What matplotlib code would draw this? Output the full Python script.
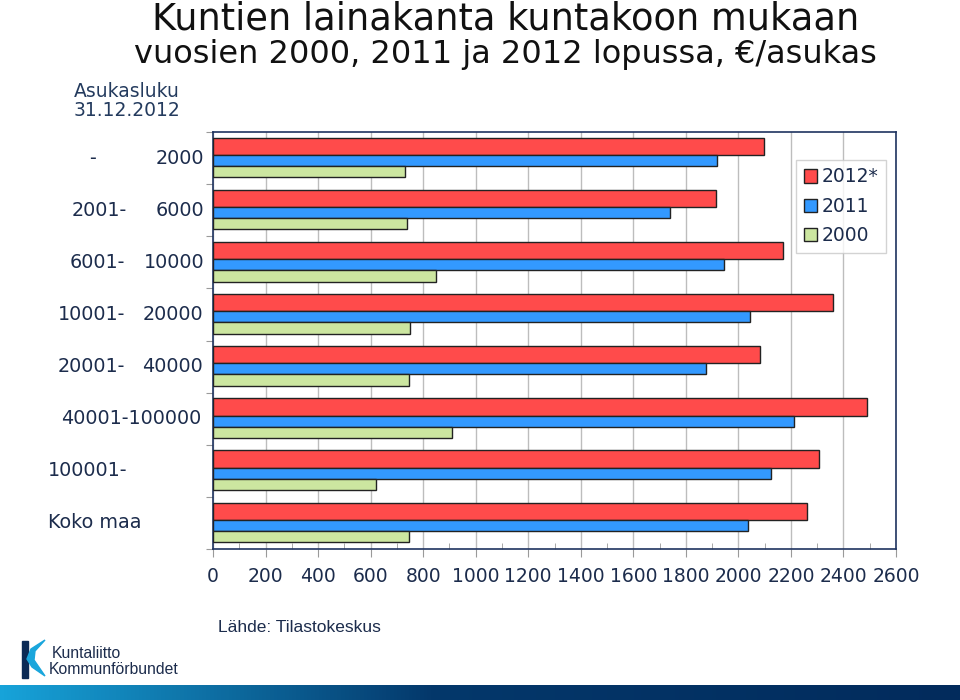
import numpy as np
import matplotlib.pyplot as plt
from matplotlib.colors import LinearSegmentedColormap
from matplotlib.patches import Polygon
from matplotlib.transforms import blended_transform_factory

# data, EUR per inhabitant
groups = ["- 2000", "2001- 6000", "6001- 10000", "10001- 20000",
          "20001- 40000", "40001-100000", "100001-", "Koko maa"]
v2012 = [2097, 1915, 2168, 2362, 2081, 2491, 2307, 2261]
v2011 = [1918, 1739, 1944, 2046, 1877, 2212, 2126, 2038]
v2000 = [731, 737, 850, 750, 746, 909, 620, 746]
series_names = ["2012*", "2011", "2000"]
x_ticks = list(range(0, 2601, 200))

navy = "#1c2c4c"
c_red, c_blue, c_green = "#ff4b4b", "#3399ff", "#cce6a0"

fig = plt.figure(figsize=(9.6, 7), dpi=100)
W, H = 960, 700
ax = fig.add_axes([213 / W, 1 - 549 / H, 683 / W, 417 / H])

y = np.arange(len(groups))
bars = []
for vals, y0, y1, col in [(v2012, 0.11, 0.44, c_red),
                          (v2011, 0.44, 0.65, c_blue),
                          (v2000, 0.65, 0.87, c_green)]:
    b = ax.barh(y + y0, vals, height=y1 - y0, align="edge", color=col,
                edgecolor="#222222", linewidth=1.0, zorder=3)
    bars.append(b)

ax.set_xlim(0, 2600)
ax.set_ylim(len(groups), 0)
ax.set_xticks(x_ticks)
ax.set_xticks(range(100, 2600, 200), minor=True)
ax.set_xticklabels([str(t) for t in x_ticks], fontsize=13.5, color=navy)
ax.tick_params(axis="x", which="major", direction="out", length=6, color="#9a9a9a", pad=7)
ax.tick_params(axis="x", which="minor", direction="in", length=4, color="#9a9a9a")
ax.set_yticks(range(len(groups) + 1))
ax.set_yticklabels([])
ax.tick_params(axis="y", direction="out", length=5, color="#9a9a9a")
ax.grid(axis="x", color="#bdbdbd", linewidth=1.0, zorder=0)
for s in ax.spines.values():
    s.set_color("#1f3460")
    s.set_linewidth(1.2)

# group labels left of the axes
tr = blended_transform_factory(fig.transFigure, ax.transData)
lab_kw = dict(fontsize=13.8, color=navy, va="center", transform=tr)
label_parts = [
    [("-", 93, "center"), ("2000", 204, "right")],
    [("2001-", 127, "right"), ("6000", 204, "right")],
    [("6001-", 125, "right"), ("10000", 204, "right")],
    [("10001-", 125, "right"), ("20000", 203, "right")],
    [("20001-", 125, "right"), ("40000", 203, "right")],
    [("40001-100000", 201, "right")],
    [("100001-", 48, "left")],
    [("Koko maa", 48, "left")],
]
for i, parts in enumerate(label_parts):
    for txt, px, ha in parts:
        fig.text(px / W, i + 0.5, txt, ha=ha, **lab_kw)

fig.text(127 / W, 1 - 101 / H, "Asukasluku\n31.12.2012", ha="center", va="center",
         fontsize=13.5, color="#243b5e", linespacing=0.95)

# titles
fig.text(506 / W, 1 - 19 / H, "Kuntien lainakanta kuntakoon mukaan", ha="center",
         va="center", fontsize=26.5, color="#111111")
fig.text(505 / W, 1 - 55 / H, "vuosien 2000, 2011 ja 2012 lopussa, €/asukas", ha="center",
         va="center", fontsize=23, color="#111111")

leg = ax.legend(bars, series_names, loc="upper left",
                bbox_to_anchor=(796 / W, 1 - 160 / H), bbox_transform=fig.transFigure,
                borderaxespad=0, fontsize=13.5, frameon=True, fancybox=False,
                handlelength=0.7, handleheight=0.7, handletextpad=0.25,
                labelspacing=0.55, borderpad=0.4, labelcolor=navy)
leg.get_frame().set_edgecolor("#c8c8c8")
leg.get_frame().set_linewidth(1.0)

fig.text(218 / W, 1 - 627 / H, "Lähde: Tilastokeskus", ha="left", va="center",
         fontsize=12.5, color=navy, family="Liberation Sans")

# logo
lax = fig.add_axes([0, 0, 1, 1], zorder=-1)
lax.set_xlim(0, W)
lax.set_ylim(H, 0)
lax.axis("off")
lax.add_patch(Polygon([(22, 641), (28, 641), (28, 678), (22, 678)], color="#0b2a55"))
lax.add_patch(Polygon([(45, 640), (31, 649), (27, 659), (32, 667), (45, 676), (34, 660), (35, 651)],
                      color="#1aa6dc"))
fig.text(52 / W, 1 - 654 / H, "Kuntaliitto", fontsize=11.3, color=navy, va="center",
         family="Liberation Sans")
fig.text(49 / W, 1 - 670 / H, "Kommunförbundet", fontsize=11.3, color=navy, va="center",
         family="Liberation Sans")

# bottom gradient band
bax = fig.add_axes([0, 0, 1, 15 / H])
bax.axis("off")
cmap = LinearSegmentedColormap.from_list("band", [(0, "#17a3d9"), (0.45, "#04386b"), (1, "#022b5c")])
bax.imshow(np.linspace(0, 1, 256)[None, :], aspect="auto", cmap=cmap, extent=(0, 1, 0, 1))

fig.savefig("out.png", dpi=100)
